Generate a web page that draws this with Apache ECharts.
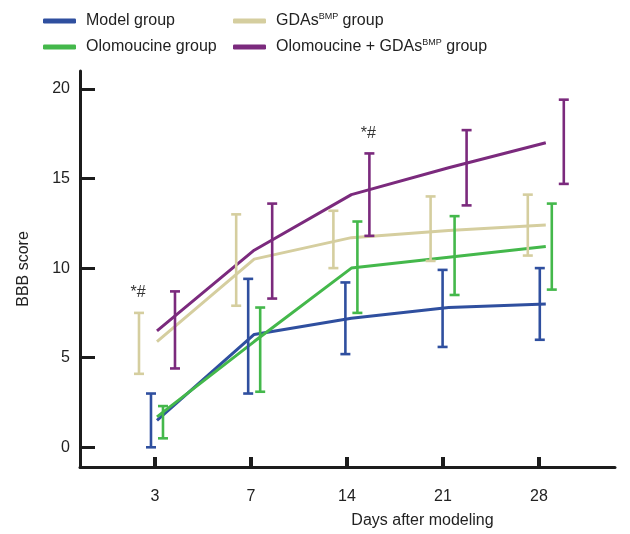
<!DOCTYPE html>
<html>
<head>
<meta charset="utf-8">
<script src="https://cdn.jsdelivr.net/npm/echarts@6/dist/echarts.min.js"></script>
<style>
  html, body { margin: 0; padding: 0; background: #fff; }
  #chart { width: 630px; height: 534px; }
</style>
</head>
<body>
<div id="chart"></div>
<script>
const days = ['3', '7', '14', '21', '28']
const yTicks = [0, 5, 10, 15, 20]
const groups = ['Model group', 'Olomoucine group', 'GDAs group', 'Olomoucine + GDAs group']
const colors = ['#2f4f9f', '#44b84b', '#d5ce9f', '#7b2a7d']

const modelMean = [1.5, 6.3, 7.2, 7.8, 8.0]
const modelHi = [3.0, 9.4, 9.2, 9.9, 10.0]
const modelLo = [0.0, 3.0, 5.2, 5.6, 6.0]

const oloMean = [1.7, 5.9, 10.0, 10.6, 11.2]
const oloHi = [2.3, 7.8, 12.6, 12.9, 13.6]
const oloLo = [0.5, 3.1, 7.5, 8.5, 8.8]

const gdasMean = [5.9, 10.5, 11.7, 12.1, 12.4]
const gdasHi = [7.5, 13.0, 13.2, 14.0, 14.1]
const gdasLo = [4.1, 7.9, 10.0, 10.4, 10.7]

const comboMean = [6.5, 11.0, 14.1, 15.6, 17.0]
const comboHi = [8.7, 13.6, 16.4, 17.7, 19.4]
const comboLo = [4.4, 8.3, 11.8, 13.5, 14.7]

// significance marks: [group index, day index, text]
const marks = [[2, 0, '*#'], [3, 2, '*#']]

const means = [modelMean, oloMean, gdasMean, comboMean]
const his = [modelHi, oloHi, gdasHi, comboHi]
const los = [modelLo, oloLo, gdasLo, comboLo]
const barShift = [-6, 6, -18, 18]

const font = 'Liberation Sans, Arial, sans-serif'
const txt = '#222'
const axisCol = '#1c1c1c'

const fmtName = n => n.replace('GDAs', 'GDAs{sup|BMP}')
const legendText = {
  fontSize: 16, fontFamily: font, color: txt, lineHeight: 20, padding: [0, 0, 0, 5],
  rich: { sup: { fontSize: 9, fontFamily: font, color: txt, padding: [0, 0, 9, 0] } }
}

const series = []
groups.forEach((g, k) => {
  series.push({
    name: g, type: 'line', xAxisIndex: 1, z: 2,
    data: means[k].map((v, i) => [i, v]),
    showSymbol: false, symbol: 'none',
    lineStyle: { color: colors[k], width: 3 },
    itemStyle: { color: colors[k] },
    silent: true
  })
  series.push({
    name: g, type: 'custom', xAxisIndex: 1, z: 3,
    data: means[k].map((v, i) => [i, los[k][i], his[k][i]]),
    itemStyle: { color: colors[k] },
    renderItem: (params, api) => {
      const i = api.value(0)
      const lo = api.coord([i, api.value(1)])
      const hi = api.coord([i, api.value(2)])
      const x = lo[0] + barShift[k]
      const st = { stroke: colors[k], lineWidth: 2.6 }
      const kids = [
        { type: 'line', shape: { x1: x, y1: lo[1], x2: x, y2: hi[1] }, style: st },
        { type: 'line', shape: { x1: x - 5, y1: lo[1], x2: x + 5, y2: lo[1] }, style: st },
        { type: 'line', shape: { x1: x - 5, y1: hi[1], x2: x + 5, y2: hi[1] }, style: st }
      ]
      marks.forEach(m => {
        if (m[0] === k && m[1] === i) {
          kids.push({
            type: 'text',
            style: { x: x - 1, y: hi[1] - 12, text: m[2], align: 'center', verticalAlign: 'bottom',
              fontSize: 16, fontFamily: font, fill: '#333' }
          })
        }
      })
      return { type: 'group', children: kids }
    }
  })
})

const chart = echarts.init(document.getElementById('chart'))
chart.setOption({
  animation: false,
  textStyle: { fontFamily: font },
  grid: { left: 80, right: 15, top: 71, bottom: 67 },
  legend: [
    {
      data: groups.slice(0, 2), orient: 'vertical', left: 38, top: 6,
      icon: 'roundRect', itemWidth: 33, itemHeight: 5, itemGap: 6, selectedMode: false,
      formatter: fmtName, textStyle: legendText
    },
    {
      data: groups.slice(2), orient: 'vertical', left: 228, top: 6,
      icon: 'roundRect', itemWidth: 33, itemHeight: 5, itemGap: 6, selectedMode: false,
      formatter: fmtName, textStyle: legendText
    }
  ],
  xAxis: [
    {
      type: 'value', min: -0.781, max: 4.792,
      name: 'Days after modeling', nameLocation: 'middle', nameGap: 46,
      nameTextStyle: { fontSize: 16, color: txt, fontFamily: font, padding: [0, 0, 0, 150] },
      splitLine: { show: false },
      axisLine: { onZero: false, lineStyle: { color: axisCol, width: 3 } },
      axisTick: { inside: true, length: 10, customValues: [0, 1, 2, 3, 4], lineStyle: { color: axisCol, width: 4 } },
      axisLabel: { customValues: [0, 1, 2, 3, 4], formatter: v => days[Math.round(v)], fontSize: 16, color: txt, margin: 22 }
    },
    { type: 'value', min: -0.792, max: 4.712, show: false }
  ],
  yAxis: {
    type: 'value', min: -1.1, max: 21,
    name: 'BBB score', nameLocation: 'middle', nameGap: 48, nameRotate: 90,
    nameTextStyle: { fontSize: 16, color: txt, fontFamily: font },
    splitLine: { show: false },
    axisLine: { onZero: false, lineStyle: { color: axisCol, width: 3 } },
    axisTick: { inside: true, length: 15, customValues: yTicks, lineStyle: { color: axisCol, width: 3 } },
    axisLabel: { customValues: yTicks, fontSize: 16, color: txt, margin: 10 }
  },
  series: series
})
</script>
</body>
</html>
